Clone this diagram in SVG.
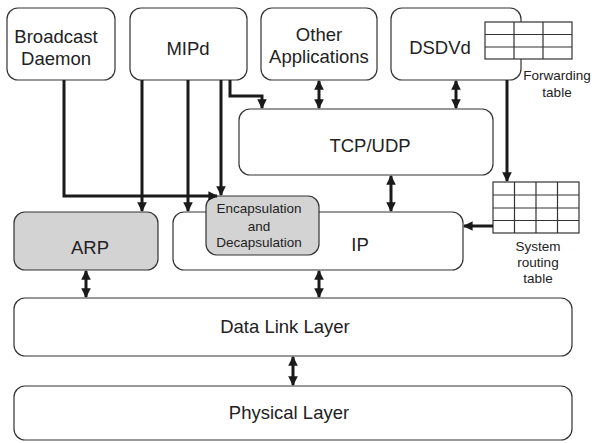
<svg xmlns="http://www.w3.org/2000/svg" width="594" height="443" viewBox="0 0 594 443">
  <style>
    .box { fill: #ffffff; stroke: #333333; stroke-width: 1.2; }
    .gray { fill: #d3d3d3; stroke: #333333; stroke-width: 1.2; }
    .lbl { font-family: "Liberation Sans", Arial, sans-serif; font-size: 18.5px; fill: #222222; text-anchor: middle; }
    .small { font-family: "Liberation Sans", Arial, sans-serif; font-size: 13.5px; fill: #222222; text-anchor: middle; }
    .grid { fill: #ffffff; stroke: #333333; stroke-width: 1.2; }
    .wire { fill: none; stroke: #1a1a1a; stroke-width: 3; }
  </style>
  <defs>
    <marker id="head" viewBox="0 0 10 10" refX="9" refY="5" markerWidth="3.2" markerHeight="3.2" orient="auto-start-reverse" markerUnits="strokeWidth">
      <path d="M0,0 L10,5 L0,10 z" fill="#1a1a1a"/>
    </marker>
  </defs>

  <rect width="594" height="443" fill="#ffffff"/>

  <!-- application layer -->
  <g id="broadcast-daemon">
    <rect class="box" x="7" y="8" width="108" height="72" rx="11"/>
    <text class="lbl" x="56" y="43">Broadcast</text>
    <text class="lbl" x="56" y="65">Daemon</text>
  </g>
  <g id="mipd">
    <rect class="box" x="130" y="8" width="117" height="72" rx="11"/>
    <text class="lbl" x="188" y="55">MIPd</text>
  </g>
  <g id="other-applications">
    <rect class="box" x="261" y="8" width="116" height="72" rx="11"/>
    <text class="lbl" x="319" y="41">Other</text>
    <text class="lbl" x="319" y="63">Applications</text>
  </g>
  <g id="dsdvd">
    <rect class="box" x="391" y="8" width="130" height="72" rx="11"/>
    <text class="lbl" x="440" y="54">DSDVd</text>
  </g>
  <g id="forwarding-table">
    <rect class="grid" x="485" y="22" width="87" height="37"/>
    <path d="M514,22 V59 M543,22 V59 M485,34.5 H572 M485,47 H572" stroke="#333333" stroke-width="1.2"/>
    <text class="small" x="557" y="80">Forwarding</text>
    <text class="small" x="557" y="97">table</text>
  </g>

  <!-- transport and network layer -->
  <g id="tcp-udp">
    <rect class="box" x="239" y="109" width="254" height="66" rx="11"/>
    <text class="lbl" x="370" y="152">TCP/UDP</text>
  </g>
  <g id="arp">
    <rect class="gray" x="14" y="212" width="144" height="58" rx="11"/>
    <text class="lbl" x="90" y="254">ARP</text>
  </g>
  <g id="ip">
    <rect class="box" x="173" y="212" width="290" height="58" rx="11"/>
    <text class="lbl" x="360" y="251">IP</text>
  </g>
  <g id="encapsulation">
    <rect class="gray" x="206" y="196" width="113" height="59" rx="11"/>
    <text class="small" x="259" y="213">Encapsulation</text>
    <text class="small" x="259" y="231">and</text>
    <text class="small" x="259" y="247">Decapsulation</text>
  </g>
  <g id="system-routing-table">
    <rect class="grid" x="493" y="182" width="86" height="51"/>
    <path d="M514.5,182 V233 M536,182 V233 M557.5,182 V233 M493,195 H579 M493,208 H579 M493,220.5 H579" stroke="#333333" stroke-width="1.2"/>
    <text class="small" x="538" y="251">System</text>
    <text class="small" x="538" y="267">routing</text>
    <text class="small" x="538" y="283">table</text>
  </g>

  <!-- link and physical layer -->
  <g id="data-link-layer">
    <rect class="box" x="14" y="298" width="558" height="58" rx="11"/>
    <text class="lbl" x="285" y="333">Data Link Layer</text>
  </g>
  <g id="physical-layer">
    <rect class="box" x="14" y="386" width="558" height="54" rx="11"/>
    <text class="lbl" x="289" y="419">Physical Layer</text>
  </g>

  <!-- connectors -->
  <g id="connectors">
    <path class="wire" d="M64,80 V196 H217" marker-end="url(#head)"/>
    <path class="wire" d="M142,80 V211" marker-end="url(#head)"/>
    <path class="wire" d="M188,80 V211" marker-end="url(#head)"/>
    <path class="wire" d="M221,80 V195" marker-end="url(#head)"/>
    <path class="wire" d="M230,80 V96 H262 V108" marker-end="url(#head)"/>
    <path class="wire" d="M319,81 V108" marker-start="url(#head)" marker-end="url(#head)"/>
    <path class="wire" d="M456,81 V108" marker-start="url(#head)" marker-end="url(#head)"/>
    <path class="wire" d="M507,80 V181" marker-end="url(#head)"/>
    <path class="wire" d="M493,226 H464" marker-end="url(#head)"/>
    <path class="wire" d="M391,176 V211" marker-start="url(#head)" marker-end="url(#head)"/>
    <path class="wire" d="M86,271 V297" marker-start="url(#head)" marker-end="url(#head)"/>
    <path class="wire" d="M319,271 V297" marker-start="url(#head)" marker-end="url(#head)"/>
    <path class="wire" d="M293,357 V385" marker-start="url(#head)" marker-end="url(#head)"/>
  </g>
</svg>
